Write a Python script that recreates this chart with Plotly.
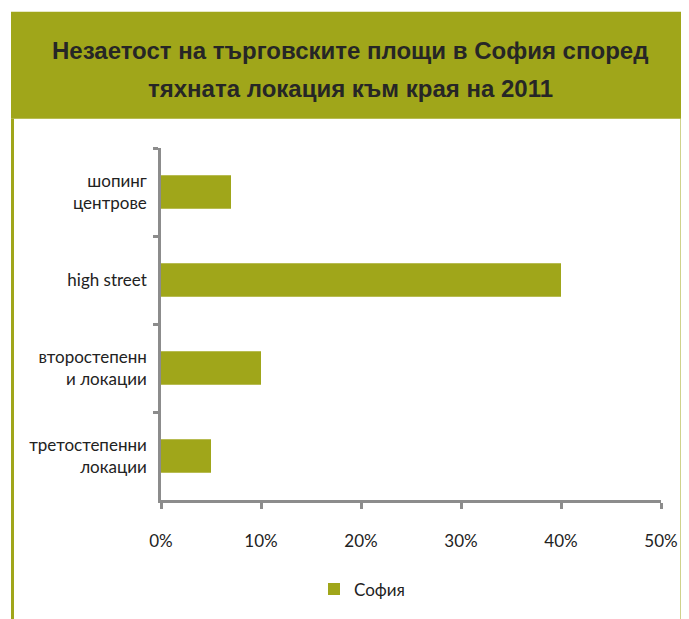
import plotly.graph_objects as go

categories = ["шопинг<br>центрове", "high street", "второстепенн<br>и локации", "третостепенни<br>локации"]
values = [0.07, 0.40, 0.10, 0.05]
series_name = "София"
title_lines = ["Незаетост на търговските площи в София според", "тяхната локация към края на 2011"]

OFF = 8  # browser body margin
W, H = 689 - OFF, 619 - OFF
ML, MR, MT, MB = 161 - OFF, 28, 148 - OFF, 109
PW, PH = W - ML - MR, H - MT - MB

def px(x):
    return (x - OFF - ML) / PW

def py(y):
    return (H - MB - (y - OFF)) / PH

olive = "#A0A61A"
axis_col = "#8C8C8C"

fig = go.Figure(go.Bar(
    y=categories, x=values, orientation="h", name=series_name,
    marker=dict(color=olive, line=dict(width=0)), width=0.38,
))

fig.update_layout(
    width=W, height=H, margin=dict(l=ML, r=MR, t=MT, b=MB),
    paper_bgcolor="white", plot_bgcolor="white",
    font=dict(family="Lato, Open Sans, sans-serif", size=17, color="#222"),
    showlegend=True,
    legend=dict(orientation="h", x=px(362), xanchor="center", y=py(602), yanchor="middle",
                font=dict(size=17), bgcolor="rgba(0,0,0,0)"),
)
fig.update_xaxes(range=[0, 0.5], dtick=0.1, tickformat=".0%", showgrid=False, zeroline=False,
                 showline=True, linecolor=axis_col, linewidth=2.5,
                 ticks="outside", ticklen=6, tickwidth=2.5, tickcolor=axis_col,
                 ticklabelstandoff=18, fixedrange=True)
fig.update_yaxes(autorange="reversed", showgrid=False, zeroline=False,
                 showline=True, linecolor=axis_col, linewidth=2.5,
                 ticks="outside", ticklen=5, tickwidth=2.5, tickcolor=axis_col,
                 tickson="boundaries", ticklabelstandoff=8, fixedrange=True)

shapes = [
    dict(type="rect", xref="paper", yref="paper", x0=px(11), x1=px(684), y0=py(118), y1=py(8),
         fillcolor=olive, line=dict(width=0), layer="below"),
    dict(type="line", xref="paper", yref="paper", x0=px(12.5), x1=px(12.5), y0=py(660), y1=py(118),
         line=dict(color=olive, width=3)),
    dict(type="line", xref="paper", yref="paper", x0=px(682), x1=px(682), y0=py(660), y1=py(118),
         line=dict(color=olive, width=3)),
]
fig.update_layout(shapes=shapes)

for t, yy in zip(title_lines, [48, 87]):
    fig.add_annotation(xref="paper", yref="paper", x=px(350), y=py(yy), xanchor="center", yanchor="middle",
                       text=f"<b>{t}</b>", showarrow=False,
                       font=dict(family="Liberation Sans, Arial, sans-serif", size=24, color="#262626"))

fig.write_html("out.html", config={"displayModeBar": False})
